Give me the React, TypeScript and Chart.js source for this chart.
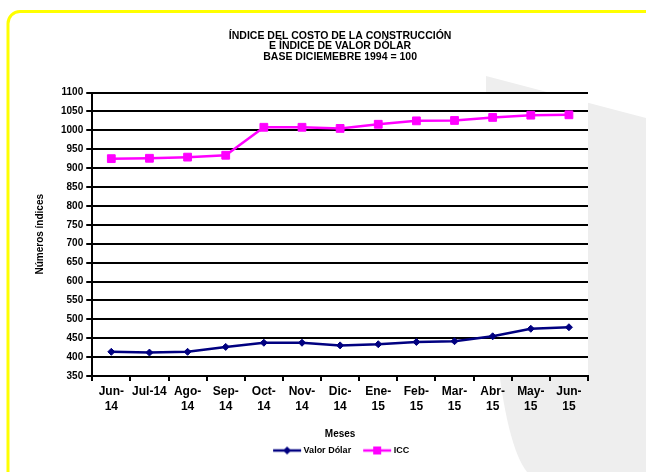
import React, { useEffect, useRef } from "react";
import { Chart, registerables } from "chart.js";

Chart.register(...registerables);

const titleLines = [
  "ÍNDICE DEL COSTO DE LA CONSTRUCCIÓN",
  "E ÍNDICE DE VALOR DÓLAR",
  "BASE DICIEMEBRE 1994 = 100",
];

const monthLabels: (string | string[])[] = [
  ["Jun-", "14"],
  "Jul-14",
  ["Ago-", "14"],
  ["Sep-", "14"],
  ["Oct-", "14"],
  ["Nov-", "14"],
  ["Dic-", "14"],
  ["Ene-", "15"],
  ["Feb-", "15"],
  ["Mar-", "15"],
  ["Abr-", "15"],
  ["May-", "15"],
  ["Jun-", "15"],
];

const valorDolar = [414, 412, 414, 427, 438, 438, 431, 434, 440, 442, 455, 475, 479];
const icc = [925, 926, 929, 934, 1008, 1008, 1005, 1016, 1025, 1026, 1034, 1040, 1041];

const yMin = 350;
const yMax = 1100;
const yStep = 50;

const NAVY = "#000080";
const MAGENTA = "#ff00ff";
const FONT = "'Liberation Sans', Arial, Helvetica, sans-serif";

function legendImage(color: string, shape: "diamond" | "square"): HTMLCanvasElement {
  const c = document.createElement("canvas");
  c.width = 34;
  c.height = 10;
  const g = c.getContext("2d")!;
  g.strokeStyle = color;
  g.fillStyle = color;
  g.lineWidth = 2.5;
  const x0 = 5;
  const x1 = 33;
  const cx = (x0 + x1) / 2;
  g.beginPath();
  g.moveTo(x0, 5);
  g.lineTo(x1, 5);
  g.stroke();
  g.beginPath();
  if (shape === "diamond") {
    g.moveTo(cx - 4, 5);
    g.lineTo(cx, 1);
    g.lineTo(cx + 4, 5);
    g.lineTo(cx, 9);
    g.closePath();
  } else {
    g.rect(cx - 4, 1, 8, 8);
  }
  g.fill();
  return c;
}

const backgroundPlugin = {
  id: "pageBackground",
  beforeDraw(chart: any) {
    const { ctx, width, height, chartArea } = chart;
    ctx.save();
    ctx.fillStyle = "#ffffff";
    ctx.fillRect(0, 0, width, height);
    ctx.fillStyle = "#eeeeee";
    ctx.beginPath();
    ctx.moveTo(486, 76);
    ctx.lineTo(width, 118);
    ctx.lineTo(width, height);
    ctx.lineTo(527, height);
    ctx.quadraticCurveTo(486, 420, 486, 76);
    ctx.closePath();
    ctx.fill();
    ctx.fillStyle = "#ffffff";
    ctx.fillRect(chartArea.left, chartArea.top, chartArea.right - chartArea.left, chartArea.bottom - chartArea.top);
    ctx.strokeStyle = "#ffff00";
    ctx.lineWidth = 3;
    ctx.beginPath();
    (ctx as any).roundRect(8, 11.5, 660, 480, 12);
    ctx.stroke();
    ctx.restore();
  },
};

export default function App() {
  const ref = useRef<HTMLCanvasElement | null>(null);

  useEffect(() => {
    if (!ref.current) return;
    Chart.defaults.font.family = FONT;
    Chart.defaults.color = "#000";
    const imgs = [legendImage(NAVY, "diamond"), legendImage(MAGENTA, "square")];

    const chart = new Chart(ref.current, {
      type: "line",
      data: {
        labels: monthLabels,
        datasets: [
          {
            label: "Valor Dólar",
            data: valorDolar,
            borderColor: NAVY,
            backgroundColor: NAVY,
            borderWidth: 2.5,
            pointStyle: "rectRot",
            pointRadius: 3.5,
            pointBorderWidth: 1,
            tension: 0,
          },
          {
            label: "ICC",
            data: icc,
            borderColor: MAGENTA,
            backgroundColor: MAGENTA,
            borderWidth: 2.5,
            pointStyle: "rect",
            pointRadius: 5.5,
            pointBorderWidth: 1,
            tension: 0,
          },
        ],
      },
      plugins: [backgroundPlugin],
      options: {
        responsive: false,
        animation: false,
        devicePixelRatio: 1,
        layout: { padding: { left: 24, right: 58, top: 24, bottom: 7 } },
        plugins: {
          tooltip: { enabled: false },
          title: {
            display: true,
            text: titleLines,
            fullSize: false,
            font: { size: 10.5, weight: "bold", lineHeight: 1.0 },
            padding: { top: 6.5, bottom: 30.5 },
            color: "#000",
          },
          legend: {
            display: true,
            position: "bottom",
            fullSize: false,
            labels: {
              usePointStyle: true,
              pointStyleWidth: 28,
              font: { size: 9, weight: "bold" },
              padding: 10,
              color: "#000",
              generateLabels: (c: any) => {
                const items = (Chart.defaults.plugins.legend.labels as any).generateLabels(c);
                items.forEach((it: any, i: number) => {
                  it.pointStyle = imgs[i];
                });
                return items;
              },
            },
          },
        },
        scales: {
          x: {
            offset: true,
            grid: {
              offset: true,
              drawOnChartArea: true,
              drawTicks: true,
              tickLength: 5,
              lineWidth: 2,
              color: (ctx: any) => (ctx.index === monthLabels.length ? "#000" : "rgba(0,0,0,0)"),
              tickColor: "#000",
            },
            border: { display: true, color: "#000", width: 2 },
            ticks: {
              font: { size: 12, weight: "bold", lineHeight: 1.25 },
              color: "#000",
              padding: 3,
              maxRotation: 0,
              autoSkip: false,
            },
            title: {
              display: true,
              text: "Meses",
              font: { size: 10, weight: "bold", lineHeight: 1.2 },
              color: "#000",
              padding: { top: 11, bottom: -4 },
            },
          },
          y: {
            min: yMin,
            max: yMax,
            grid: {
              color: "#000",
              lineWidth: 2,
              tickLength: 6,
              drawTicks: true,
              tickColor: "#000",
            },
            border: { display: true, color: "#000", width: 2 },
            ticks: {
              stepSize: yStep,
              font: { size: 10, weight: "bold" },
              color: "#000",
              padding: 3,
              callback: (v: any) => String(v),
            },
            title: {
              display: true,
              text: "Números índices",
              font: { size: 10, weight: "bold", lineHeight: 1.2 },
              color: "#000",
              padding: { top: 10, bottom: 12 },
            },
          },
        },
      },
    } as any);
    return () => chart.destroy();
  }, []);

  return (
    <div style={{ position: "fixed", left: 0, top: 0, width: 646, height: 472, background: "#fff" }}>
      <canvas ref={ref} width={646} height={472} style={{ display: "block" }} />
    </div>
  );
}
